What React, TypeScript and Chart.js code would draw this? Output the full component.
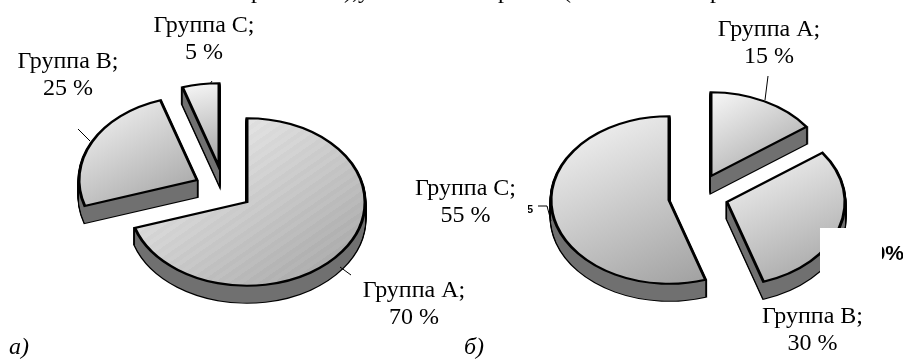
import React, { useEffect, useRef } from "react";
import { Chart, registerables } from "chart.js";

Chart.register(...registerables);

const categories = ["Группа A", "Группа B", "Группа C"];
const valuesA = [70, 25, 5];
const valuesB = [15, 30, 55];

const SERIF = '"Liberation Serif"';
const TILT = 0.71;
const RADIUS = 118;
const DEPTH = 17;

const viewA = {
  centers: [[247, 202], [197, 180], [219, 167]],
  stripes: [true, false, false],
  labelPos: [[414, 297], [68, 68], [204, 32]],
  leaders: [[[340, 267], [351, 275]], [[78, 129], [90, 141]], [[210, 84], [212, 81]]],
  caption: { text: "а)", x: 9, y: 354 },
  heading: [["р", 251], ["),", 344], ["у", 358]],
};
const viewB = {
  centers: [[711, 176], [727, 202], [669, 200]],
  stripes: [false, false, false],
  labelPos: [[769, 36], [812.5, 323], [465.5, 195]],
  leaders: [[[768, 76], [765, 100]], [[1, 1], [1, 1]], [[538, 206], [547, 206], [551, 221]]],
  caption: { text: "б)", x: 464, y: 354 },
  heading: [["р", 498], ["(", 563], ["р", 710]],
};

function override(el: any, props: any) {
  const orig = el.options;
  el.options = Object.assign(Object.create(orig), props);
  return () => { el.options = orig; };
}

function sliceGradient(ctx: CanvasRenderingContext2D, arc: any, striped: boolean) {
  let minX = arc.x, maxX = arc.x, minY = arc.y, maxY = arc.y;
  for (let i = 0; i <= 40; i++) {
    const a = arc.startAngle + ((arc.endAngle - arc.startAngle) * i) / 40;
    const x = arc.x + Math.cos(a) * RADIUS;
    const y = arc.y + Math.sin(a) * RADIUS;
    minX = Math.min(minX, x); maxX = Math.max(maxX, x);
    minY = Math.min(minY, y); maxY = Math.max(maxY, y);
  }
  const g = ctx.createLinearGradient(minX, minY, maxX, maxY);
  const shade = (t: number) => {
    const v = Math.round(248 - 88 * t);
    return `rgb(${v},${v},${v})`;
  };
  if (!striped) {
    g.addColorStop(0, shade(0));
    g.addColorStop(1, shade(1));
    return g;
  }
  const bands = 64;
  for (let i = 0; i < bands; i++) {
    const t = i / bands;
    const c = shade(t + (i % 2 ? 0.025 : -0.015));
    g.addColorStop(t, c);
    g.addColorStop((i + 1) / bands, c);
  }
  return g;
}

function hatch(ctx: CanvasRenderingContext2D) {
  const c = document.createElement("canvas");
  c.width = 2; c.height = 2;
  const p = c.getContext("2d")!;
  p.fillStyle = "#8c8c8c"; p.fillRect(0, 0, 2, 2);
  p.fillStyle = "#555555"; p.fillRect(0, 0, 1, 1); p.fillRect(1, 1, 1, 1);
  return ctx.createPattern(c, "repeat")!;
}

function makePlugin(view: any, values: number[], extra?: (ctx: CanvasRenderingContext2D) => void) {
  return {
    id: "tiltedPie",
    beforeDatasetDraw(chart: any) {
      const ctx: CanvasRenderingContext2D = chart.ctx;
      const arcs = chart.getDatasetMeta(0).data;
      const side = hatch(ctx);
      const place = (arc: any, i: number, drop: number) => {
        ctx.translate(view.centers[i][0], view.centers[i][1] + drop);
        ctx.scale(1, TILT);
        ctx.translate(-arc.x, -arc.y);
      };
      arcs.forEach((arc: any, i: number) => {
        for (const mode of ["edge", "body"]) {
          const restore = override(arc, mode === "edge"
            ? { backgroundColor: "#000", borderColor: "#000", borderWidth: 3 }
            : { backgroundColor: side, borderWidth: 0 });
          for (let d = DEPTH; d > 0; d -= 1) {
            ctx.save();
            place(arc, i, d);
            arc.draw(ctx);
            ctx.restore();
          }
          restore();
        }
        ctx.save();
        place(arc, i, 0);
        const restore = override(arc, { backgroundColor: sliceGradient(ctx, arc, view.stripes[i]) });
        arc.draw(ctx);
        restore();
        ctx.restore();
      });
      return false;
    },
    afterDraw(chart: any) {
      const ctx: CanvasRenderingContext2D = chart.ctx;
      ctx.save();
      ctx.strokeStyle = "#000";
      ctx.lineWidth = 1;
      view.leaders.forEach((pts: number[][]) => {
        ctx.beginPath();
        pts.forEach((p, k) => (k ? ctx.lineTo(p[0], p[1]) : ctx.moveTo(p[0], p[1])));
        ctx.stroke();
      });
      ctx.fillStyle = "#000";
      ctx.font = `24px ${SERIF}`;
      ctx.textAlign = "center";
      ctx.textBaseline = "alphabetic";
      categories.forEach((cat, i) => {
        const [x, y] = view.labelPos[i];
        ctx.fillText(`${cat};`, x, y);
        ctx.fillText(`${values[i]} %`, x, y + 27);
      });
      ctx.textAlign = "left";
      view.heading.forEach(([t, x]: [string, number]) => ctx.fillText(t, x, -2));
      ctx.font = `italic 24px ${SERIF}`;
      ctx.fillText(view.caption.text, view.caption.x, view.caption.y);
      if (extra) extra(ctx);
      ctx.restore();
    },
  };
}

function coverB(ctx: CanvasRenderingContext2D) {
  ctx.font = 'bold 21px "Liberation Sans"';
  ctx.textAlign = "right";
  ctx.fillText("0%", 904, 260);
  ctx.fillStyle = "#fff";
  ctx.fillRect(820, 228, 62, 60);
  ctx.save();
  ctx.beginPath();
  ctx.rect(528, 205, 5, 10);
  ctx.clip();
  ctx.fillStyle = "#000";
  ctx.font = 'bold 11px "Liberation Sans"';
  ctx.textAlign = "left";
  ctx.fillText("5", 527, 213);
  ctx.restore();
}

function build(canvas: HTMLCanvasElement, values: number[], view: any, extra?: (c: CanvasRenderingContext2D) => void) {
  return new Chart(canvas, {
    type: "pie",
    data: {
      labels: categories,
      datasets: [{
        data: values,
        radius: RADIUS,
        backgroundColor: "#ccc",
        borderColor: "#000",
        borderWidth: 3,
        borderJoinStyle: "miter",
      } as any],
    },
    options: {
      responsive: false,
      animation: false,
      events: [],
      layout: { padding: 0 },
      plugins: { legend: { display: false }, tooltip: { enabled: false } },
    },
    plugins: [makePlugin(view, values, extra) as any],
  });
}

export default function App() {
  const a = useRef<HTMLCanvasElement>(null);
  const b = useRef<HTMLCanvasElement>(null);
  useEffect(() => {
    const c1 = build(a.current!, valuesA, viewA);
    const c2 = build(b.current!, valuesB, viewB, coverB);
    return () => { c1.destroy(); c2.destroy(); };
  }, []);
  const style: React.CSSProperties = { position: "absolute", left: 0, top: 0, display: "block" };
  return (
    <div style={{ position: "fixed", left: 0, top: 0, width: 903, height: 360, background: "#fff", overflow: "hidden" }}>
      <canvas ref={a} width={903} height={360} style={style} />
      <canvas ref={b} width={903} height={360} style={style} />
    </div>
  );
}
